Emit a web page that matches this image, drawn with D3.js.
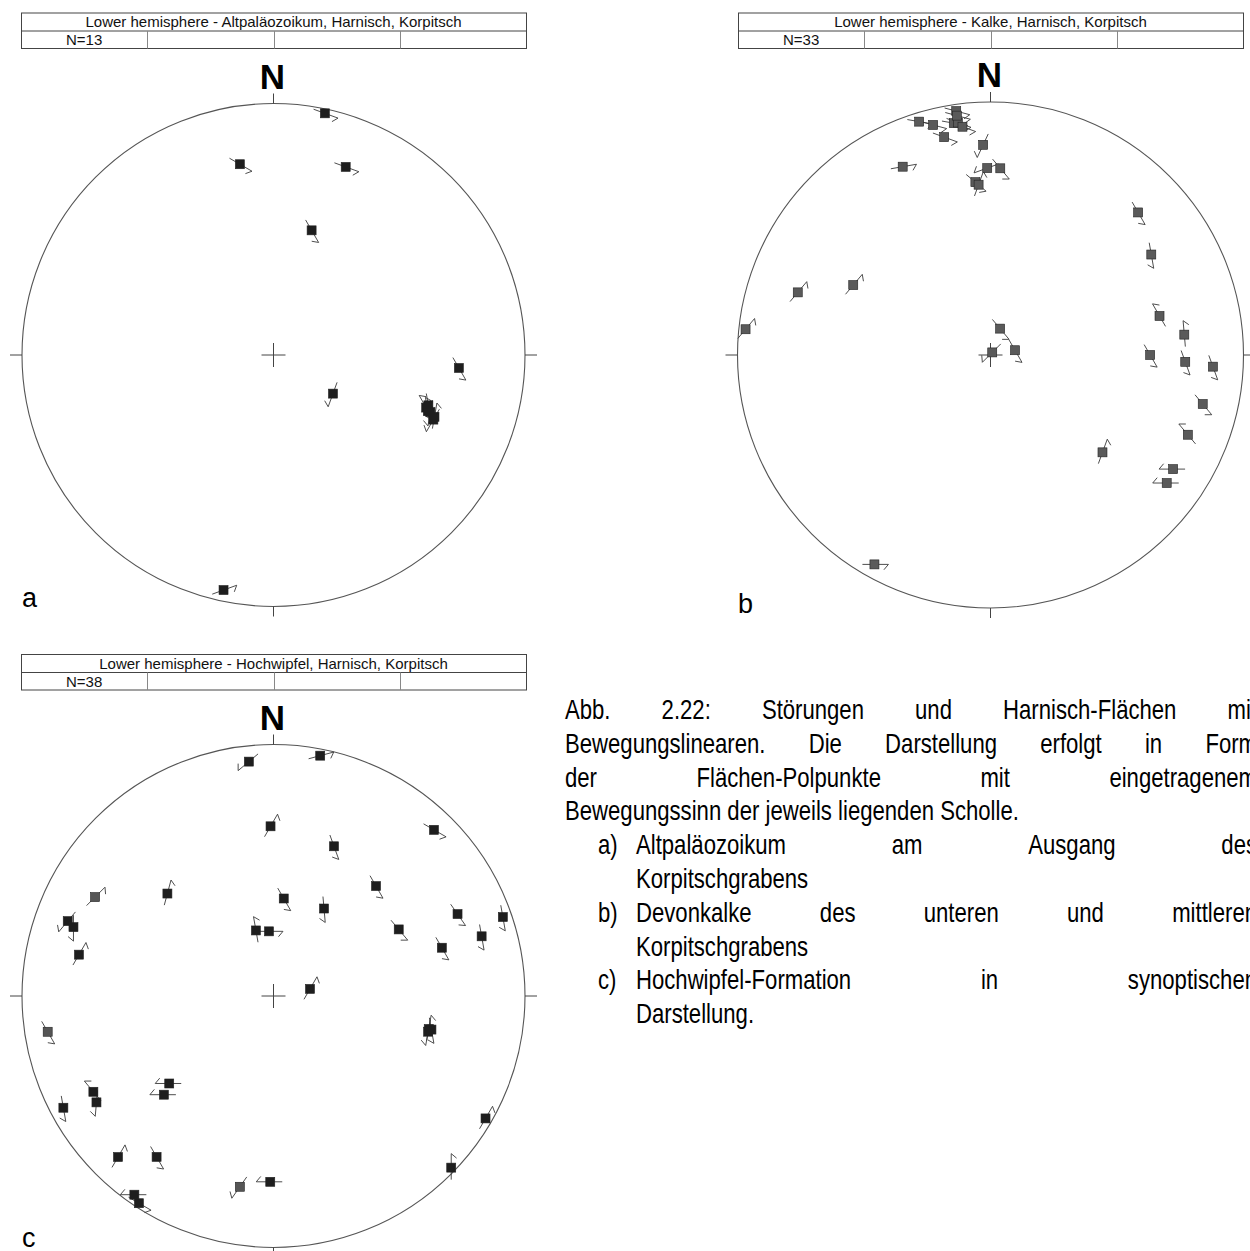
<!DOCTYPE html>
<html>
<head>
<meta charset="utf-8">
<script src="https://cdnjs.cloudflare.com/ajax/libs/d3/7.8.5/d3.min.js"></script>
<style>
  html, body { margin: 0; padding: 0; background: #fff; }
  svg { display: block; }
</style>
</head>
<body>
<svg id="fig" width="1250" height="1251"></svg>
<script>
// Fault-slip data, lower-hemisphere equal-area (Schmidt) net.
// Each measurement: pole of the fault plane (trend / plunge, degrees)
// and the azimuth of the slip arrow drawn through the pole.

// a) Altpaläozoikum
const aTitle  = "Lower hemisphere - Altpaläozoikum, Harnisch, Korpitsch";
const aTrend  = [12, 350, 21, 17, 94, 123, 110, 111, 109, 110, 108, 112, 192];
const aPlunge = [2, 24, 21, 47, 27, 67, 35, 32, 36, 34, 35.5, 32, 5];
const aSlip   = [110, 120, 110, 150, 150, 200, 350, 10, 330, 190, 170, 210, 70];

// b) Kalke
const bTitle  = "Lower hemisphere - Kalke, Harnisch, Korpitsch";
const bTrend  = [352, 351, 352, 352, 353, 343, 346, 348, 358, 335, 359, 3, 355, 356, 46, 58,
                 297, 288, 276, 20, 34, 79, 77, 84, 90, 92, 93, 103, 112, 131, 122, 126, 209];
const bPlunge = [3, 8, 8, 5, 10, 4, 7, 13, 18, 19, 27, 27, 32, 33, 20, 26,
                 39, 21, 3, 81, 89, 82, 32, 24, 37, 24, 13, 15, 17, 41, 16, 15, 6];
const bSlip   = [105, 100, 110, 105, 110, 100, 105, 110, 205, 80, 250, 140, 130, 20, 150, 170,
                 40, 40, 40, 140, 225, 150, 330, 355, 150, 160, 160, 140, 320, 20, 270, 270, 90];

// c) Hochwipfel
const cTitle  = "Lower hemisphere - Hochwipfel, Harnisch, Korpitsch";
const cTrend  = [354, 11, 44, 359, 22, 43, 299, 314, 66, 30, 6, 74, 71, 345, 356, 62, 290, 289, 282,
                 74, 79, 261, 102, 103, 102, 230, 228, 242, 239, 242, 120, 224, 216, 134, 215, 213, 190, 181];
const cPlunge = [7, 3, 9, 33, 36, 40, 20, 41, 21, 57, 58, 15, 4, 68, 69, 43, 14, 17, 22,
                 31, 78, 10, 37, 37, 36, 45, 41, 20, 19, 6, 3, 12, 22, 2, 4, 2, 24, 27];
const cSlip   = [230, 75, 120, 30, 160, 150, 45, 15, 145, 175, 150, 170, 170, 350, 90, 140, 220, 180, 30,
                 150, 30, 150, 10, 190, 170, 270, 270, 320, 185, 170, 30, 30, 150, 0, 270, 120, 215, 270];
// 0 = dark symbol, 1 = grey symbol
const cGroup  = [0, 0, 0, 0, 0, 0, 1, 0, 0, 0, 0, 0, 0, 0, 0, 0, 0, 0, 0,
                 0, 0, 1, 0, 0, 0, 0, 0, 0, 0, 0, 0, 0, 0, 0, 0, 0, 1, 0];

// Caption
const captionPara = [
  "Abb. 2.22: Störungen und Harnisch-Flächen mit",
  "Bewegungslinearen. Die Darstellung erfolgt in Form",
  "der Flächen-Polpunkte mit eingetragenem",
  "Bewegungssinn der jeweils liegenden Scholle."
];
const captionItems = [
  ["a)", "Altpaläozoikum am Ausgang des", "Korpitschgrabens"],
  ["b)", "Devonkalke des unteren und mittleren", "Korpitschgrabens"],
  ["c)", "Hochwipfel-Formation in synoptischen", "Darstellung."]
];

const svg = d3.select("#fig");
const rad = Math.PI / 180;
const SANS = "'Liberation Sans', Arial, Helvetica, sans-serif";

const panels = [
  { label: "a", title: aTitle, trend: aTrend, plunge: aPlunge, slip: aSlip, group: null,
    box: [21, 526, 12.5], cx: 273.5, cy: 355, R: 251.5, lab: [22, 607], fill: ["#1e1e1e", "#1e1e1e"] },
  { label: "b", title: bTitle, trend: bTrend, plunge: bPlunge, slip: bSlip, group: null,
    box: [738, 1243, 12.5], cx: 990.5, cy: 355, R: 253, lab: [738, 613], fill: ["#5a5a5a", "#5a5a5a"] },
  { label: "c", title: cTitle, trend: cTrend, plunge: cPlunge, slip: cSlip, group: cGroup,
    box: [21, 526, 654], cx: 273.5, cy: 996, R: 251.5, lab: [22, 1247], fill: ["#1e1e1e", "#555555"] }
];

panels.forEach(p => {
  const g = svg.append("g");
  const [bx0, bx1, by0] = p.box;
  const bw = bx1 - bx0;

  // header table
  g.append("rect").attr("x", bx0 + 0.5).attr("y", by0 + 0.5)
    .attr("width", bw).attr("height", 35.5)
    .attr("fill", "none").attr("stroke", "#444").attr("stroke-width", 1);
  g.append("line").attr("x1", bx0 + 0.5).attr("x2", bx1 + 0.5)
    .attr("y1", by0 + 18.5).attr("y2", by0 + 18.5)
    .attr("stroke", "#444").attr("stroke-width", 1);
  [1, 2, 3].forEach(k => {
    const x = Math.round(bx0 + bw * k / 4) + 0.5;
    g.append("line").attr("x1", x).attr("x2", x)
      .attr("y1", by0 + 18.5).attr("y2", by0 + 36)
      .attr("stroke", "#888").attr("stroke-width", 1);
  });
  g.append("text").attr("x", bx0 + bw / 2).attr("y", by0 + 14.5)
    .attr("text-anchor", "middle").attr("font-family", SANS).attr("font-size", 15)
    .attr("fill", "#111").text(p.title);
  g.append("text").attr("x", bx0 + bw / 8).attr("y", by0 + 32.5)
    .attr("text-anchor", "middle").attr("font-family", SANS).attr("font-size", 15)
    .attr("fill", "#111").text("N=" + p.trend.length);

  // net outline, north label, tick marks, centre cross
  const { cx, cy, R } = p;
  g.append("circle").attr("cx", cx).attr("cy", cy).attr("r", R)
    .attr("fill", "none").attr("stroke", "#555").attr("stroke-width", 1.1);
  g.append("text").attr("x", cx - 1).attr("y", cy - R - 15)
    .attr("text-anchor", "middle").attr("font-family", SANS).attr("font-weight", "bold")
    .attr("font-size", 35).attr("fill", "#000").text("N");
  const ticks = [
    [cx, cy - R, cx, cy - R - 10],
    [cx, cy + R, cx, cy + R + 10],
    [cx - R, cy, cx - R - 12, cy],
    [cx + R, cy, cx + R + 12, cy],
    [cx - 12, cy, cx + 12, cy],
    [cx, cy - 12, cx, cy + 12]
  ];
  g.selectAll("line.tick").data(ticks).join("line").attr("class", "tick")
    .attr("x1", d => d[0]).attr("y1", d => d[1]).attr("x2", d => d[2]).attr("y2", d => d[3])
    .attr("stroke", "#444").attr("stroke-width", 1);

  // equal-area radial scale: r = R * sqrt(1 - sin(plunge))
  const rScale = d3.scaleSqrt().domain([0, 1]).range([0, R]);
  const pts = p.trend.map((t, i) => {
    const r = rScale(1 - Math.sin(p.plunge[i] * rad));
    return {
      x: cx + r * Math.sin(t * rad),
      y: cy - r * Math.cos(t * rad),
      slip: p.slip[i],
      grp: p.group ? p.group[i] : 0
    };
  });

  // slip arrows: line through the pole with a half arrowhead at the tip
  const arrow = d => {
    const ux = Math.sin(d.slip * rad), uy = -Math.cos(d.slip * rad);
    const tx = d.x + 14 * ux, ty = d.y + 14 * uy;
    const bAz = (d.slip + 180 - 50) * rad;
    const bx = tx + 7 * Math.sin(bAz), by = ty - 7 * Math.cos(bAz);
    return `M${d.x - 12 * ux},${d.y - 12 * uy}L${tx},${ty}M${tx},${ty}L${bx},${by}`;
  };
  g.append("g").selectAll("path").data(pts).join("path")
    .attr("d", arrow).attr("fill", "none")
    .attr("stroke", "#3a3a3a").attr("stroke-width", 0.9);
  g.append("g").selectAll("rect").data(pts).join("rect")
    .attr("x", d => d.x - 4.5).attr("y", d => d.y - 4.5)
    .attr("width", 9).attr("height", 9)
    .attr("fill", d => p.fill[d.grp]).attr("stroke", "#222").attr("stroke-width", 0.6);

  // panel letter
  g.append("text").attr("x", p.lab[0]).attr("y", p.lab[1])
    .attr("font-family", SANS).attr("font-size", 27).attr("fill", "#000").text(p.label);
});

// ---- caption (justified, narrow sans) ----
function fontAvailable(fam) {
  const c = document.createElement("canvas").getContext("2d");
  const s = "abcdefghijklmnopqrstuvwxyzABCDEFGHIJ";
  c.font = "40px monospace";
  const w0 = c.measureText(s).width;
  c.font = `40px "${fam}", monospace`;
  return Math.abs(c.measureText(s).width - w0) > 0.5;
}
const narrow = fontAvailable("Liberation Sans Narrow");
const capFamily = narrow ? "'Liberation Sans Narrow', 'Arial Narrow', sans-serif" : SANS;
const sx = narrow ? 1 : 0.82;
const capSize = 27;
const cap = svg.append("g").attr("transform", `scale(${sx},1)`)
  .attr("font-family", capFamily).attr("font-size", capSize).attr("fill", "#000");

function measure(str) {
  const t = cap.append("text").text(str);
  const w = t.node().getComputedTextLength();
  t.remove();
  return w;
}
const spaceW = measure("a a") - measure("aa");

function drawLine(text, x0, x1, y, justify) {
  const words = text.split(" ");
  const nodes = words.map(w => cap.append("text").attr("y", y).text(w));
  const widths = nodes.map(n => n.node().getComputedTextLength());
  const total = d3.sum(widths);
  const avail = (x1 - x0) / sx;
  const gap = justify && words.length > 1 ? (avail - total) / (words.length - 1) : spaceW;
  let x = x0 / sx;
  nodes.forEach((n, i) => { n.attr("x", x); x += widths[i] + gap; });
}

const lineH = 33.8, base0 = 719;
const paraX0 = 565, itemLabX = 598, itemX0 = 636, rightX = 1257;
captionPara.forEach((s, i) => drawLine(s, paraX0, rightX, base0 + i * lineH, i < captionPara.length - 1));
captionItems.forEach((it, k) => {
  const y1 = base0 + (4 + 2 * k) * lineH;
  cap.append("text").attr("x", itemLabX / sx).attr("y", y1).text(it[0]);
  drawLine(it[1], itemX0, rightX, y1, true);
  drawLine(it[2], itemX0, rightX, y1 + lineH, false);
});
</script>
</body>
</html>
